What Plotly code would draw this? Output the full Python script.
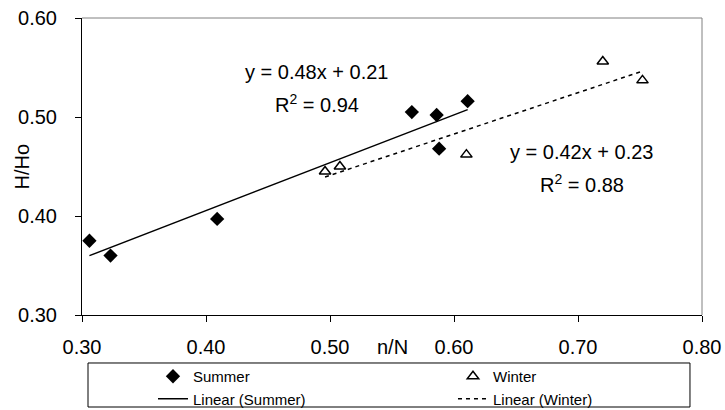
import numpy as np
import plotly.graph_objects as go

# Data
summer_x = [0.306, 0.323, 0.409, 0.566, 0.586, 0.588, 0.611]
summer_y = [0.375, 0.360, 0.397, 0.505, 0.502, 0.468, 0.516]
winter_x = [0.496, 0.508, 0.610, 0.720, 0.752]
winter_y = [0.445, 0.450, 0.462, 0.556, 0.537]

x_ticks = [0.30, 0.40, 0.50, 0.60, 0.70, 0.80]
y_ticks = [0.30, 0.40, 0.50, 0.60]

summer_eq = ["y = 0.48x + 0.21", "R<sup>2</sup> = 0.94"]
winter_eq = ["y = 0.42x + 0.23", "R<sup>2</sup> = 0.88"]

FONT = "Liberation Sans, Arial, sans-serif"


def fit_line(xs, ys):
    m, b = np.polyfit(xs, ys, 1)
    lx = np.array([min(xs), max(xs)])
    return lx, m * lx + b


sfx, sfy = fit_line(summer_x, summer_y)
wfx, wfy = fit_line(winter_x, winter_y)

fig = go.Figure()
fig.add_trace(go.Scatter(x=summer_x, y=summer_y, mode="markers", name="Summer",
                         marker=dict(symbol="diamond", size=11, color="black")))
fig.add_trace(go.Scatter(x=winter_x, y=winter_y, mode="markers", name="Winter",
                         marker=dict(symbol="triangle-up-open", size=10, color="black",
                                     line=dict(width=1.5, color="black"))))
fig.add_trace(go.Scatter(x=sfx, y=sfy, mode="lines", name="Linear (Summer)",
                         line=dict(color="black", width=1.5)))
fig.add_trace(go.Scatter(x=wfx, y=wfy, mode="lines", name="Linear (Winter)",
                         line=dict(color="black", width=1.5, dash="4px,4px")))

axis_common = dict(showgrid=False, zeroline=False, showline=True, linecolor="black",
                   linewidth=1, ticks="outside", ticklen=6, tickcolor="black",
                   tickfont=dict(family=FONT, size=20, color="black"), tickformat=".2f",
                   automargin=False, ticklabeloverflow="allow")

fig.update_xaxes(range=[0.30, 0.80], tickvals=x_ticks, ticklabelstandoff=8, **axis_common)
fig.update_yaxes(range=[0.30, 0.60], tickvals=y_ticks, ticklabelstandoff=14, **axis_common)

annotations = [
    dict(x=0.4895, y=0.5455, text=summer_eq[0]),
    dict(x=0.4895, y=0.514, text=summer_eq[1]),
    dict(x=0.703, y=0.4646, text=winter_eq[0]),
    dict(x=0.703, y=0.4333, text=winter_eq[1]),
]
for a in annotations:
    fig.add_annotation(x=a["x"], y=a["y"], xref="x", yref="y", text=a["text"],
                       showarrow=False, xanchor="center", yanchor="middle",
                       font=dict(family=FONT, size=20, color="black"))

# axis titles placed as in the reference
fig.add_annotation(x=0.5, y=-0.1077, xref="paper", yref="paper", text="n/N",
                   showarrow=False, xanchor="center", yanchor="middle",
                   font=dict(family=FONT, size=20, color="black"))
fig.add_annotation(x=-0.0968, y=0.5, xref="paper", yref="paper", text="H/Ho",
                   textangle=-90, showarrow=False, xanchor="center", yanchor="middle",
                   font=dict(family=FONT, size=20, color="black"))

# grey top / right frame of plot area
fig.add_shape(type="line", xref="paper", yref="paper", x0=0, x1=1, y0=1, y1=1,
              line=dict(color="#808080", width=1))
fig.add_shape(type="line", xref="paper", yref="paper", x0=1, x1=1, y0=0, y1=1,
              line=dict(color="#808080", width=1))
# legend frame
fig.add_shape(type="rect", xref="paper", yref="paper", x0=0.0097, x1=0.9806,
              y0=-0.3098, y1=-0.1616, line=dict(color="black", width=1))

fig.update_layout(
    width=725, height=410,
    margin=dict(l=82, r=23, t=18, b=95, autoexpand=False),
    paper_bgcolor="white", plot_bgcolor="white",
    font=dict(family=FONT, color="black"),
    showlegend=True,
    legend=dict(orientation="h", x=0.1145, y=-0.1515, xanchor="left", yanchor="top",
                entrywidth=255, entrywidthmode="pixels",
                font=dict(family=FONT, size=15, color="black"),
                bgcolor="rgba(0,0,0,0)", borderwidth=0, tracegroupgap=0),
)

fig.write_html(
    "out.html",
    config={"displayModeBar": False},
    post_script="document.body.style.margin='0';document.body.style.overflow='hidden';",
)
